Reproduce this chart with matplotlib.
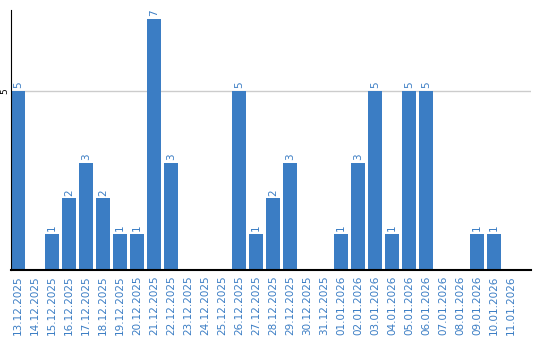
import matplotlib
matplotlib.use("Agg")
import matplotlib.pyplot as plt

dates = ["13.12.2025", "14.12.2025", "15.12.2025", "16.12.2025", "17.12.2025",
         "18.12.2025", "19.12.2025", "20.12.2025", "21.12.2025", "22.12.2025",
         "23.12.2025", "24.12.2025", "25.12.2025", "26.12.2025", "27.12.2025",
         "28.12.2025", "29.12.2025", "30.12.2025", "31.12.2025", "01.01.2026",
         "02.01.2026", "03.01.2026", "04.01.2026", "05.01.2026", "06.01.2026",
         "07.01.2026", "08.01.2026", "09.01.2026", "10.01.2026", "11.01.2026"]
counts = [5, 0, 1, 2, 3, 2, 1, 1, 7, 3,
          0, 0, 0, 5, 1, 2, 3, 0, 0, 1,
          3, 5, 1, 5, 5, 0, 0, 1, 1, 0]

blue = "#3b7dc4"

fig = plt.figure(figsize=(5.4, 3.4), dpi=100)
ax = fig.add_axes([11 / 540, 70 / 340, 520 / 540, 260 / 340])

x = list(range(len(dates)))
ax.bar(x, counts, width=0.82, color=blue, zorder=2)

for xi, v in zip(x, counts):
    if v > 0:
        ax.text(xi, v + 0.08, str(v), rotation=90, ha="center", va="bottom",
                fontsize=7.5, color=blue)

ax.set_xlim(-0.41, 30.18)
ax.set_ylim(0, 7.26)
ax.set_yticks([5])
ax.set_yticklabels(["5"], rotation=90, va="center", fontsize=6.5)
ax.tick_params(axis="y", length=0, pad=1)
ax.yaxis.grid(True, color="#cccccc", linewidth=1, zorder=0)

ax.set_xticks(x)
ax.set_xticklabels(dates, rotation=90, fontsize=7.5, color=blue)
ax.tick_params(axis="x", length=0, pad=4)

ax.spines["top"].set_visible(False)
ax.spines["right"].set_visible(False)
ax.spines["left"].set_color("black")
ax.spines["bottom"].set_color("black")
ax.spines["bottom"].set_linewidth(1.5)

fig.savefig("out.png", dpi=100)
